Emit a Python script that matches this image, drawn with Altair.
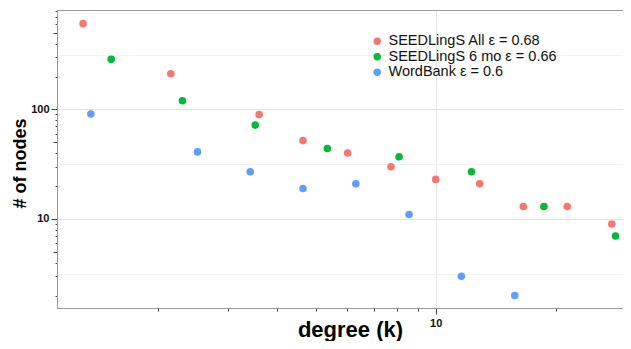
import altair as alt
import pandas as pd

series_names = ["SEEDLingS All ε = 0.68", "SEEDLingS 6 mo ε = 0.66", "WordBank ε = 0.6"]
series_colors = ["#F8766D", "#00BA38", "#619CFF"]

deg_all = [1.30, 2.16, 3.60, 4.64, 6.01, 7.72, 10.0, 12.9, 16.6, 21.4, 27.7]
n_all = [608, 212, 90, 52, 40, 30, 23, 21, 13, 13, 9]
deg_6mo = [1.53, 2.31, 3.52, 5.34, 8.09, 12.3, 18.7, 28.3]
n_6mo = [287, 120, 72, 44, 37, 27, 13, 7]
deg_wb = [1.36, 2.52, 3.42, 4.64, 6.30, 8.57, 11.6, 15.8]
n_wb = [91, 41, 27, 19, 21, 11, 3, 2]

x_ticks = [2, 3, 4, 5, 6, 7, 8, 9, 10, 20]
y_ticks = [2, 3, 4, 5, 6, 7, 8, 9, 10, 20, 30, 40, 50, 60, 70, 80, 90, 100,
           200, 300, 400, 500, 600, 700, 800]
y_half = [3.1623, 31.623, 316.23]

rows = []
for name, xs, ys in zip(series_names, [deg_all, deg_6mo, deg_wb], [n_all, n_6mo, n_wb]):
    for xv, yv in zip(xs, ys):
        rows.append({"series": name, "degree": xv, "nodes": yv})
df = pd.DataFrame(rows)

font = "Liberation Sans"

x_scale = alt.Scale(type="log", domain=[1.118, 29.55], nice=False)
y_scale = alt.Scale(type="log", domain=[1.539, 810], nice=False)

x_axis = alt.Axis(
    values=x_ticks,
    labelExpr="datum.value == 10 ? '10' : ''",
    title="degree (k)",
    titleFont=font, titleFontSize=22, titleFontWeight="bold", titleColor="#000",
    titleX=293, titleY=28, titleBaseline="alphabetic", titleAlign="center",
    labelFont=font, labelFontSize=11, labelFontWeight="bold", labelColor="#111",
    labelPadding=3,
    domainColor="#999", domainWidth=1,
    tickColor="#444",
    tickSize={"condition": {"test": "datum.value == 10", "value": 6}, "value": 3},
    grid=True,
    gridColor="#e6e6e6",
    gridOpacity={"condition": {"test": "datum.value == 10", "value": 1}, "value": 0},
)

y_axis = alt.Axis(
    values=y_ticks + y_half,
    labelExpr="datum.value == 10 ? '10' : (datum.value == 100 ? '100' : '')",
    title="# of nodes",
    titleFont=font, titleFontSize=18, titleFontWeight="bold", titleColor="#000",
    titleX=-32, titleY=153, titleBaseline="alphabetic", titleAlign="center", titleAngle=270,
    labelFont=font, labelFontSize=11, labelFontWeight="bold", labelColor="#111",
    labelPadding=2,
    domainColor="#999", domainWidth=1,
    tickColor="#444",
    tickSize={"condition": [
        {"test": "datum.value == 10 || datum.value == 100", "value": 6},
        {"test": "datum.value == 5 || datum.value == 50 || datum.value == 500", "value": 4},
    ], "value": 2},
    tickOpacity={"condition": {"test": "datum.value == 3.1623 || datum.value == 31.623 || datum.value == 316.23", "value": 0}, "value": 1},
    grid=True,
    gridColor={"condition": {"test": "datum.value == 10 || datum.value == 100", "value": "#e3e3e3"}, "value": "#f2f2f2"},
    gridOpacity={"condition": {"test": "datum.value == 10 || datum.value == 100 || datum.value == 3.1623 || datum.value == 31.623 || datum.value == 316.23", "value": 1}, "value": 0},
)

top_axis = alt.Axis(orient="top", ticks=False, labels=False, title=None, grid=False,
                    domainColor="#999", domainWidth=1)

points = alt.Chart(df).mark_circle(size=58, opacity=1).encode(
    x=alt.X("degree:Q", scale=x_scale, axis=x_axis),
    y=alt.Y("nodes:Q", scale=y_scale, axis=y_axis),
    color=alt.Color("series:N",
                    scale=alt.Scale(domain=series_names, range=series_colors),
                    sort=series_names,
                    legend=alt.Legend(
                        title=None, orient="none", legendX=313, legendY=24,
                        labelFont=font, labelFontSize=14.5, labelColor="#111",
                        labelLimit=0,
                        symbolType="circle", symbolSize=55, symbolStrokeWidth=0,
                        labelOffset=4, rowPadding=0.5, padding=0,
                    )),
)

frame = alt.Chart(df).mark_circle(opacity=0).encode(
    x=alt.X("degree:Q", scale=x_scale, axis=top_axis),
    y=alt.Y("nodes:Q", scale=y_scale),
)

chart = alt.layer(points, frame).resolve_axis(x="independent").properties(
    width=566, height=298,
    autosize=alt.AutoSizeParams(type="none"),
    padding={"left": 49, "top": 2, "right": 0, "bottom": 33},
).configure_view(
    stroke=None
).configure(background="white")

chart.save("out.html", embed_options={"renderer": "svg", "actions": False})
